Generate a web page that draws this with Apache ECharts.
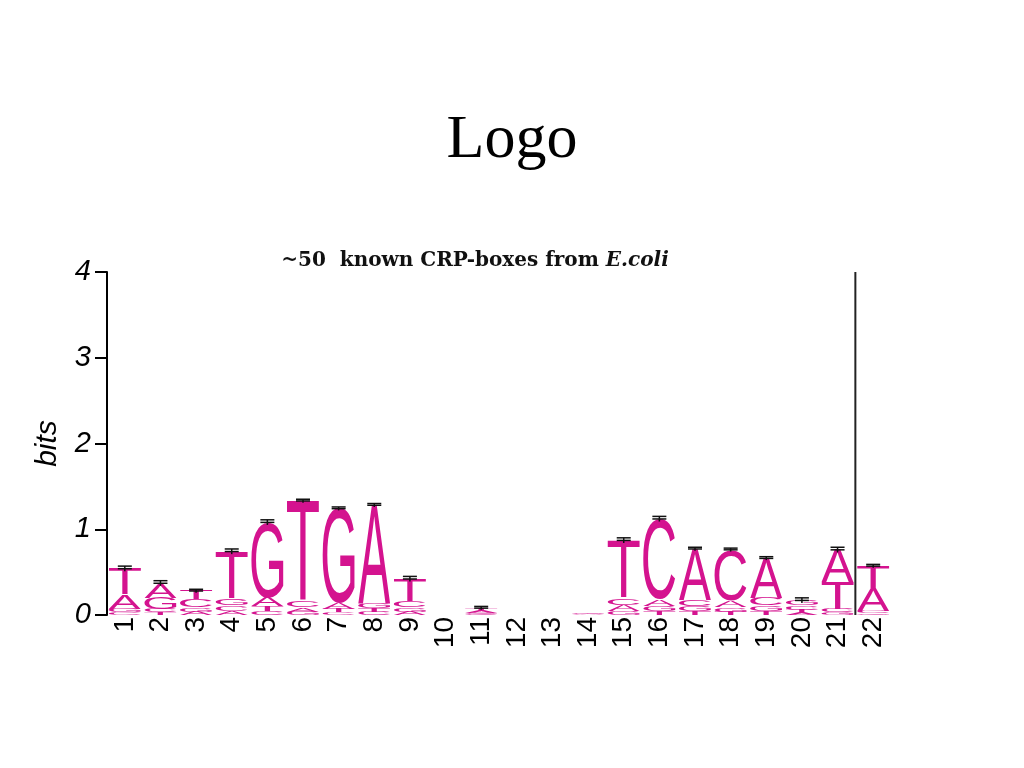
<!DOCTYPE html>
<html>
<head>
<meta charset="utf-8">
<script src="https://cdn.jsdelivr.net/npm/echarts@6/dist/echarts.min.js"></script>
<style>
html,body{margin:0;padding:0;background:#fff;}
#chart{width:1024px;height:768px;}
</style>
</head>
<body>
<div id="chart"></div>
<script>
// Positions along the CRP-box
var positions = ['1','2','3','4','5','6','7','8','9','10','11','12','13','14','15','16','17','18','19','20','21','22'];
// Letter heights (bits) per position
var bitsA = [0.17,0.17,0.04,0.05,0.10,0.05,0.07,1.14,0.04,0,0.025,0,0,0.01,0.07,0.08,0.60,0.08,0.46,0.03,0.38,0.26];
var bitsC = [0.03,0.04,0.09,0.06,0.04,0.07,0.03,0.04,0.07,0,0.010,0,0,0.00,0.08,0.93,0.07,0.59,0.09,0.05,0.04,0.03];
var bitsG = [0.04,0.13,0.05,0.08,0.88,0.04,1.10,0.06,0.05,0,0.010,0,0,0.01,0.05,0.06,0.06,0.05,0.06,0.06,0.03,0.02];
var bitsT = [0.30,0.03,0.10,0.55,0.06,1.17,0.04,0.04,0.26,0,0.035,0,0,0.00,0.67,0.05,0.04,0.04,0.05,0.03,0.31,0.26];
// Error bar half-size (bits) per position
var errBits = [0.03,0.03,0.02,0.03,0.03,0.02,0.02,0.02,0.03,0,0.02,0,0,0,0.03,0.03,0.02,0.02,0.02,0.03,0.03,0.02];
var yTicks = [0, 1, 2, 3, 4];

var LETTER_COLOR = '#d4138f';
var FONT_FAMILY = '"Liberation Sans", Arial, sans-serif';
var FONT_SIZE = 100;

// Measure glyph ink boxes (relative to center/middle anchor)
var glyphBox = {};
(function () {
  var cv = document.createElement('canvas');
  var ctx = cv.getContext('2d');
  ctx.font = 'normal ' + FONT_SIZE + 'px ' + FONT_FAMILY;
  ctx.textAlign = 'center';
  ctx.textBaseline = 'middle';
  ['A', 'C', 'G', 'T'].forEach(function (ch) {
    var m = ctx.measureText(ch);
    var L = m.actualBoundingBoxLeft, R = m.actualBoundingBoxRight;
    var As = m.actualBoundingBoxAscent, D = m.actualBoundingBoxDescent;
    if (!(L + R > 0) || !(As + D > 0)) {
      L = 34; R = 34; As = 36; D = 36;
    }
    glyphBox[ch] = { L: L, R: R, A: As, D: D };
  });
})();

var seriesData = positions.map(function (p, i) {
  return [i, bitsA[i], bitsC[i], bitsG[i], bitsT[i], errBits[i]];
});

function renderLogo(params, api) {
  var idx = api.value(0);
  var stack = [['A', api.value(1)], ['C', api.value(2)], ['G', api.value(3)], ['T', api.value(4)]];
  stack.sort(function (a, b) { return a[1] - b[1]; });
  var bw = api.size([1, 0])[0];
  var center = api.coord([idx, 0])[0];
  var lw = bw * 0.9;
  var x0 = center - lw / 2;
  var children = [];
  var cum = 0;
  stack.forEach(function (s) {
    var h = s[1];
    if (h <= 0) return;
    var pb = api.coord([idx, cum]);
    var pt = api.coord([idx, cum + h]);
    cum += h;
    var hpx = pb[1] - pt[1];
    if (hpx < 0.6) return;
    var g = glyphBox[s[0]];
    var sx = lw / (g.L + g.R);
    var sy = hpx / (g.A + g.D);
    children.push({
      type: 'text',
      x: x0 + g.L * sx,
      y: pt[1] + g.A * sy,
      scaleX: sx,
      scaleY: sy,
      silent: true,
      style: {
        text: s[0],
        x: 0,
        y: 0,
        fill: LETTER_COLOR,
        fontSize: FONT_SIZE,
        fontWeight: 'normal',
        fontFamily: FONT_FAMILY,
        align: 'center',
        verticalAlign: 'middle'
      }
    });
  });
  var err = api.value(5);
  if (cum > 0 && err > 0) {
    var top = api.coord([idx, cum + err])[1];
    var mid = api.coord([idx, cum])[1];
    var bot = api.coord([idx, Math.max(0, cum - err)])[1];
    var hw = 7;
    var ls = { stroke: '#111', lineWidth: 1.5 };
    children.push({ type: 'line', shape: { x1: center - hw, y1: top, x2: center + hw, y2: top }, style: ls, silent: true });
    children.push({ type: 'line', shape: { x1: center - hw, y1: mid, x2: center + hw, y2: mid }, style: ls, silent: true });
    children.push({ type: 'line', shape: { x1: center, y1: top, x2: center, y2: bot }, style: ls, silent: true });
  }
  return { type: 'group', children: children };
}

function renderRightLine(params, api) {
  var idx = api.value(0);
  var bw = api.size([1, 0])[0];
  var x = api.coord([idx, 0])[0] + bw / 2;
  var yTop = api.coord([idx, 4])[1];
  var yBot = api.coord([idx, 0])[1];
  return {
    type: 'line',
    shape: { x1: x, y1: yTop, x2: x, y2: yBot },
    style: { stroke: '#222', lineWidth: 2 },
    silent: true
  };
}

var chart = echarts.init(document.getElementById('chart'), null, { renderer: 'canvas' });
chart.setOption({
  animation: false,
  backgroundColor: '#ffffff',
  title: [
    {
      text: 'Logo',
      left: 'center',
      top: 105,
      textStyle: { fontFamily: '"Liberation Serif", "Times New Roman", serif', fontSize: 62, fontWeight: 'normal', color: '#000' }
    },
    {
      text: '~50  known CRP-boxes from {i|E.coli}',
      left: 470,
      textAlign: 'center',
      top: 246,
      textStyle: {
        fontFamily: '"DejaVu Serif", serif',
        fontSize: 20,
        fontWeight: 'bold',
        color: '#111',
        rich: {
          i: { fontFamily: '"DejaVu Serif", serif', fontSize: 20, fontWeight: 'bold', fontStyle: 'italic', color: '#111' }
        }
      }
    }
  ],
  grid: { left: 107, width: 784, top: 272, height: 343, containLabel: false },
  xAxis: {
    type: 'category',
    data: positions,
    boundaryGap: true,
    axisLine: { show: false },
    axisTick: { show: false },
    splitLine: { show: false },
    axisLabel: {
      rotate: 90,
      margin: 2,
      interval: 0,
      color: '#000',
      fontSize: 28,
      fontFamily: '"Liberation Sans", Arial, sans-serif'
    }
  },
  yAxis: {
    type: 'value',
    min: yTicks[0],
    max: yTicks[yTicks.length - 1],
    interval: 1,
    name: 'bits',
    nameLocation: 'middle',
    nameGap: 44,
    nameRotate: 90,
    nameTextStyle: { fontSize: 30, fontStyle: 'italic', color: '#000', fontFamily: '"Liberation Sans", Arial, sans-serif' },
    axisLine: { show: true, lineStyle: { color: '#000', width: 2 } },
    axisTick: { show: true, length: 12, lineStyle: { color: '#000', width: 2 } },
    splitLine: { show: false },
    axisLabel: {
      margin: 16,
      color: '#000',
      fontSize: 29,
      fontStyle: 'italic',
      fontFamily: '"Liberation Sans", Arial, sans-serif'
    }
  },
  series: [
    {
      type: 'custom',
      renderItem: renderLogo,
      data: seriesData,
      encode: { x: 0, y: [1, 2, 3, 4] },
      silent: true,
      clip: false
    },
    {
      type: 'custom',
      renderItem: renderRightLine,
      data: [[20]],
      encode: { x: 0 },
      silent: true
    }
  ]
});
</script>
</body>
</html>
